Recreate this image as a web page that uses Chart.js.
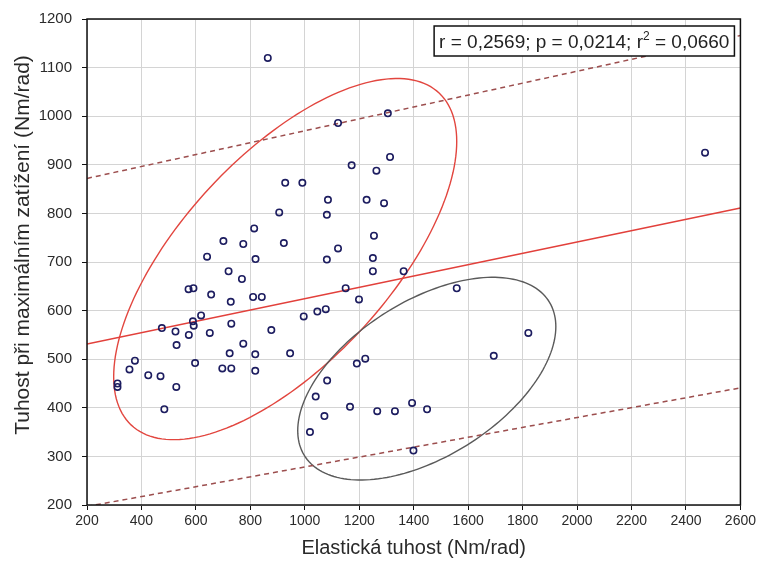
<!DOCTYPE html>
<html lang="cs">
<head>
<meta charset="utf-8">
<title>Tuhost</title>
<script src="https://cdn.jsdelivr.net/npm/chart.js@4.4.1/dist/chart.umd.min.js"></script>
<style>
  html, body { margin: 0; padding: 0; background: #fff; }
  canvas { display: block; }
</style>
</head>
<body>
<canvas id="graf" width="759" height="565"></canvas>
<script>
// Naměřené hodnoty
const elastickaTuhost = [
  864, 928, 991, 1305, 1122, 1313, 1172, 1263, 1085, 1227,
  1291, 906, 1081, 814, 701, 774, 923, 1081, 641, 819,
  720, 769, 573, 591, 656, 810, 842, 728, 996, 1046,
  1077, 619, 589, 592, 730, 475, 525, 574, 651, 877,
  529, 774, 724, 818, 946, 597, 697, 730, 818, 376,
  356, 425, 470, 528, 312, 312, 484, 1694, 1191, 1222,
  1082, 1040, 1072, 1019, 1166, 1266, 1331, 1394, 1449, 1399,
  1821, 1254, 1122, 1250, 1250, 1363, 1150, 1199, 1558, 2470
];
const tuhostMaxZatizeni = [
  1120, 863, 863, 1006, 986, 916, 899, 888, 828, 828,
  821, 802, 797, 769, 743, 737, 739, 705, 711, 706,
  681, 665, 644, 646, 633, 628, 628, 618, 588, 598,
  603, 590, 578, 569, 573, 564, 557, 550, 554, 560,
  529, 532, 512, 510, 512, 492, 481, 481, 476, 497,
  479, 467, 465, 443, 450, 443, 397, 507, 491, 501,
  456, 423, 383, 350, 402, 393, 393, 410, 397, 312,
  554, 754, 728, 708, 681, 681, 646, 623, 646, 925
];

// Regresní přímka a pás (krajní body)
const primkaX = [200, 2600];
const primkaY = [531, 811];
const pasHorniY = [872, 1166];
const pasDolniY = [197, 441];

// Elipsy: střed a dva sdružené poloosy (v jednotkách os)
const elipsaCervenaStred = [928, 706];
const elipsaCervenaA = [630, 242];
const elipsaCervenaB = [0, -282];
const elipsaSedaStred = [1448, 460];
const elipsaSedaA = [474, 107];
const elipsaSedaB = [0, 179];

// Statistika do rámečku
const statR = '0,2569';
const statP = '0,0214';
const statR2 = '0,0660';

const popisY = 'Tuhost při maximálním zatížení (Nm/rad)';
const popisX = 'Elastická tuhost (Nm/rad)';

const pismo = '"Liberation Sans", Arial, sans-serif';

const body = elastickaTuhost.map((x, i) => ({ x: x, y: tuhostMaxZatizeni[i] }));
const usecka = (ys) => primkaX.map((x, i) => ({ x: x, y: ys[i] }));

// rámeček kolem plochy grafu + svislý popisek osy Y
const ramecek = {
  id: 'ramecek',
  afterDatasetsDraw(chart) {
    const { ctx, chartArea: ca } = chart;
    ctx.save();
    ctx.strokeStyle = '#111';
    ctx.lineWidth = 1.5;
    ctx.strokeRect(ca.left, ca.top, ca.right - ca.left, ca.bottom - ca.top);
    ctx.restore();

    ctx.save();
    ctx.translate(23, ca.top + 226);
    ctx.rotate(-Math.PI / 2);
    ctx.font = '21px ' + pismo;
    ctx.fillStyle = '#2a2a2a';
    ctx.textAlign = 'center';
    ctx.textBaseline = 'middle';
    ctx.fillText(popisY, 0, 0);
    ctx.restore();
  }
};

// elipsy přes škály
function nakresliElipsu(chart, stred, a, b, barva) {
  const { ctx } = chart;
  const sx = chart.scales.x, sy = chart.scales.y;
  const cx = sx.getPixelForValue(stred[0]), cy = sy.getPixelForValue(stred[1]);
  const ax = sx.getPixelForValue(stred[0] + a[0]) - cx, ay = sy.getPixelForValue(stred[1] + a[1]) - cy;
  const bx = sx.getPixelForValue(stred[0] + b[0]) - cx, by = sy.getPixelForValue(stred[1] + b[1]) - cy;
  ctx.beginPath();
  for (let i = 0; i <= 180; i++) {
    const t = i / 180 * Math.PI * 2;
    const px = cx + ax * Math.cos(t) + bx * Math.sin(t);
    const py = cy + ay * Math.cos(t) + by * Math.sin(t);
    if (i === 0) ctx.moveTo(px, py); else ctx.lineTo(px, py);
  }
  ctx.closePath();
  ctx.strokeStyle = barva;
  ctx.lineWidth = 1.4;
  ctx.stroke();
}

const elipsy = {
  id: 'elipsy',
  beforeDatasetsDraw(chart) {
    const { ctx, chartArea: ca } = chart;
    ctx.save();
    ctx.beginPath();
    ctx.rect(ca.left, ca.top, ca.right - ca.left, ca.bottom - ca.top);
    ctx.clip();
    nakresliElipsu(chart, elipsaCervenaStred, elipsaCervenaA, elipsaCervenaB, '#e2463f');
    nakresliElipsu(chart, elipsaSedaStred, elipsaSedaA, elipsaSedaB, '#5a5a5a');
    ctx.restore();
  }
};

// rámeček se statistikou
const popisek = {
  id: 'popisek',
  afterDraw(chart) {
    const { ctx, chartArea: ca } = chart;
    const f1 = '19px ' + pismo, f2 = '12px ' + pismo;
    const t1 = 'r = ' + statR + '; p = ' + statP + '; r';
    const t2 = '2';
    const t3 = ' = ' + statR2;
    ctx.save();
    ctx.font = f1;
    const w1 = ctx.measureText(t1).width, w3 = ctx.measureText(t3).width;
    ctx.font = f2;
    const w2 = ctx.measureText(t2).width;
    const sirka = w1 + w2 + w3 + 10;
    const vyska = 30;
    const right = ca.right - 6, top = ca.top + 7;
    const left = right - sirka;
    ctx.fillStyle = '#fff';
    ctx.fillRect(left, top, sirka, vyska);
    ctx.strokeStyle = '#111';
    ctx.lineWidth = 1.5;
    ctx.strokeRect(left, top, sirka, vyska);
    ctx.fillStyle = '#222';
    ctx.textBaseline = 'alphabetic';
    const base = top + 22;
    ctx.font = f1;
    ctx.fillText(t1, left + 5, base);
    ctx.font = f2;
    ctx.fillText(t2, left + 5 + w1, base - 8);
    ctx.font = f1;
    ctx.fillText(t3, left + 5 + w1 + w2, base);
    ctx.restore();
  }
};

new Chart(document.getElementById('graf').getContext('2d'), {
  type: 'scatter',
  data: {
    datasets: [
      {
        label: 'Měření',
        data: body,
        pointStyle: 'circle',
        pointRadius: 3.2,
        borderWidth: 1.6,
        borderColor: '#1d1d60',
        backgroundColor: 'rgba(0,0,0,0)',
        order: 0
      },
      {
        type: 'line',
        label: 'Regrese',
        data: usecka(primkaY),
        borderColor: '#e2403b',
        borderWidth: 1.5,
        pointRadius: 0,
        fill: false,
        order: 1
      },
      {
        type: 'line',
        label: 'Horní mez',
        data: usecka(pasHorniY),
        borderColor: '#9c4e4e',
        borderWidth: 1.5,
        borderDash: [5, 4],
        pointRadius: 0,
        fill: false,
        order: 2
      },
      {
        type: 'line',
        label: 'Dolní mez',
        data: usecka(pasDolniY),
        borderColor: '#9c4e4e',
        borderWidth: 1.5,
        borderDash: [5, 4],
        pointRadius: 0,
        fill: false,
        order: 2
      }
    ]
  },
  options: {
    responsive: false,
    animation: false,
    layout: { padding: { top: 15, right: 18, left: 0, bottom: 0 } },
    plugins: { legend: { display: false }, tooltip: { enabled: false } },
    scales: {
      x: {
        type: 'linear',
        min: 200,
        max: 2600,
        afterFit: (s) => { s.height = 60; },
        ticks: {
          stepSize: 200,
          padding: 3,
          color: '#2a2a2a',
          font: { family: pismo, size: 14 },
          callback: (v) => String(v)
        },
        grid: { color: '#d4d4d4', tickLength: 5, tickColor: '#111' },
        border: { display: false },
        title: {
          display: true,
          text: popisX,
          color: '#2a2a2a',
          font: { family: pismo, size: 20, lineHeight: 1 },
          padding: { top: 0, bottom: 7 }
        }
      },
      y: {
        type: 'linear',
        min: 200,
        max: 1200,
        afterFit: (s) => { s.width = 87; },
        ticks: {
          stepSize: 100,
          padding: 10,
          color: '#2a2a2a',
          font: { family: pismo, size: 15 },
          callback: (v) => String(v)
        },
        grid: { color: '#d4d4d4', tickLength: 5, tickColor: '#111' },
        border: { display: false },
        title: { display: false }
      }
    }
  },
  plugins: [elipsy, ramecek, popisek]
});
</script>
</body>
</html>
